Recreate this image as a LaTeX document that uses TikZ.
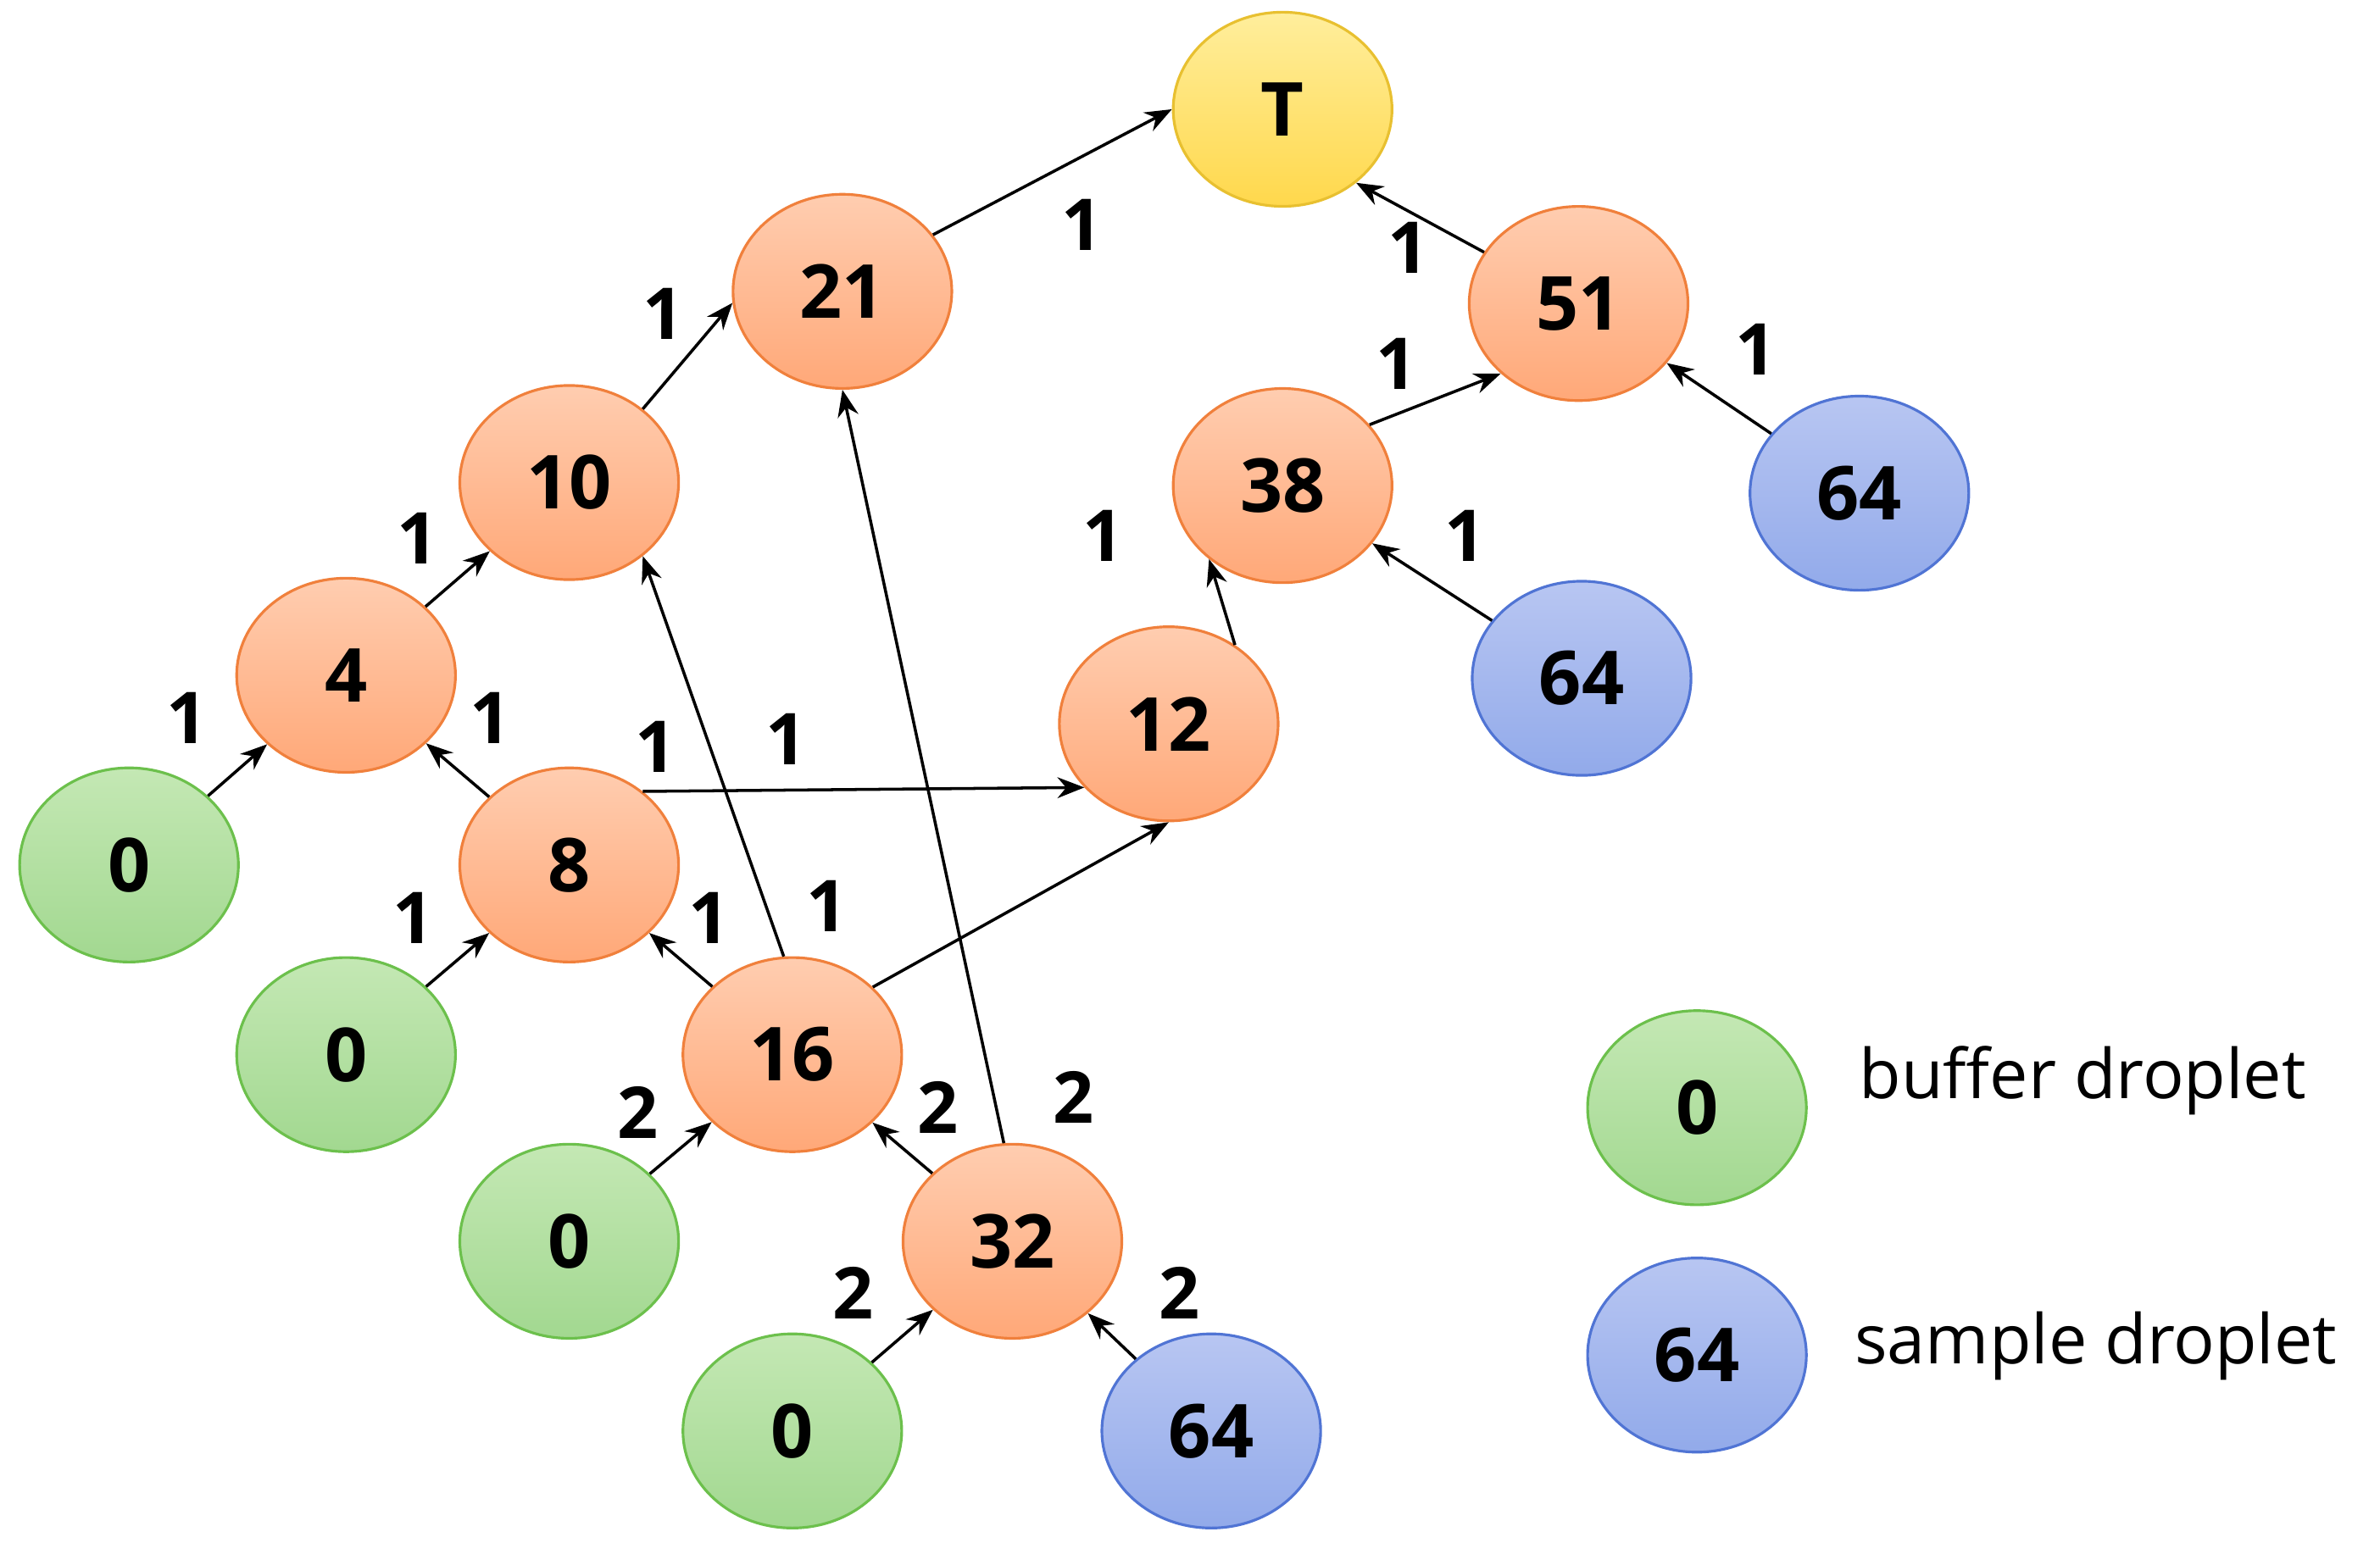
\documentclass[tikz,border=0pt]{standalone}
\usepackage{fontspec}
\setmainfont{Open Sans}
\usetikzlibrary{shapes.geometric,arrows.meta}
\definecolor{oT}{HTML}{FFCDB0}\definecolor{oB}{HTML}{FFA878}\definecolor{oD}{HTML}{F0803C}
\definecolor{gT}{HTML}{C4E8B4}\definecolor{gB}{HTML}{A2D890}\definecolor{gD}{HTML}{6CC04C}
\definecolor{bT}{HTML}{B8C6F2}\definecolor{bB}{HTML}{92AAEA}\definecolor{bD}{HTML}{5074D4}
\definecolor{yT}{HTML}{FFEE9C}\definecolor{yB}{HTML}{FFD84C}\definecolor{yD}{HTML}{E8C030}
\tikzset{
 nd/.style={ellipse,minimum width=2.58cm,minimum height=2.29cm,line width=0.9pt,font=\fontsize{25}{28}\selectfont\bfseries,inner sep=0pt},
 ora/.style={nd,draw=oD,top color=oT,bottom color=oB},
 grn/.style={nd,draw=gD,top color=gT,bottom color=gB},
 blu/.style={nd,draw=bD,top color=bT,bottom color=bB},
 yel/.style={nd,draw=yD,top color=yT,bottom color=yB},
 lab/.style={font=\fontsize{24}{28}\selectfont\bfseries},
 leg/.style={font=\fontsize{23}{28}\selectfont,anchor=west},
 ar/.style={-{Stealth[length=9pt,width=7pt]},line width=1pt}
}
\begin{document}
\begin{tikzpicture}[x=0.0179cm,y=-0.0179cm]
\useasboundingbox (0,0) rectangle (1568,1024);
\node[yel] (T) at (845,72) {T};
\node[ora] (n21) at (555,192) {21};
\node[ora] (n51) at (1040,200) {51};
\node[ora] (n10) at (375,318) {10};
\node[ora] (n38) at (845,320) {38};
\node[blu] (b1) at (1225,325) {64};
\node[ora] (n4) at (228,445) {4};
\node[blu] (b2) at (1042,447) {64};
\node[ora] (n12) at (770,477) {12};
\node[grn] (g1) at (85,570) {0};
\node[ora] (n8) at (375,570) {8};
\node[grn] (g2) at (228,695) {0};
\node[ora] (n16) at (522,695) {16};
\node[grn] (g3) at (375,818) {0};
\node[ora] (n32) at (667,818) {32};
\node[grn] (g4) at (522,943) {0};
\node[blu] (b3) at (798,943) {64};
\node[grn] (lg) at (1118,730) {0};
\node[blu] (lb) at (1118,893) {64};
\node[leg] (lgt) at (1218,712) {buffer droplet};
\node[leg] (lbt) at (1215,887) {sample droplet};
\draw[ar] (g1) -- (n4);
\draw[ar] (n8) -- (n4);
\draw[ar] (n4) -- (n10);
\draw[ar] (n10.45) -- (n21.186);
\draw[ar] (n21.32) -- (T.180);
\draw[ar] (n51) -- (T.315);
\draw[ar] (n38.35) -- (n51.222);
\draw[ar] (b1) -- (n51);
\draw[ar] (b2) -- (n38);
\draw[ar] (n12.50) -- (n38.225);
\draw[ar] (n8.45) -- (n12.217);
\draw[ar] (n16.95) -- (n10.315);
\draw[ar] (n16.40) -- (n12.270);
\draw[ar] (g2) -- (n8);
\draw[ar] (n16) -- (n8);
\draw[ar] (g3) -- (n16);
\draw[ar] (n32) -- (n16);
\draw[ar] (n32.95) -- (n21.270);
\draw[ar] (g4) -- (n32);
\draw[ar] (b3) -- (n32);
\node[lab] (l1) at (123,473) {1};
\node[lab] (l2) at (323,473) {1};
\node[lab] (l3) at (275,355) {1};
\node[lab] (l4) at (437,207) {1};
\node[lab] (l5) at (713,148) {1};
\node[lab] (l6) at (928,163) {1};
\node[lab] (l7) at (920,240) {1};
\node[lab] (l8) at (1157,230) {1};
\node[lab] (l9) at (965,353) {1};
\node[lab] (l10) at (727,353) {1};
\node[lab] (l11) at (518,487) {1};
\node[lab] (l12) at (432,492) {1};
\node[lab] (l13) at (545,597) {1};
\node[lab] (l14) at (272,605) {1};
\node[lab] (l15) at (467,605) {1};
\node[lab] (l16) at (420,733) {2};
\node[lab] (l17) at (618,730) {2};
\node[lab] (l18) at (707,723) {2};
\node[lab] (l19) at (562,852) {2};
\node[lab] (l20) at (777,852) {2};
\end{tikzpicture}
\end{document}
